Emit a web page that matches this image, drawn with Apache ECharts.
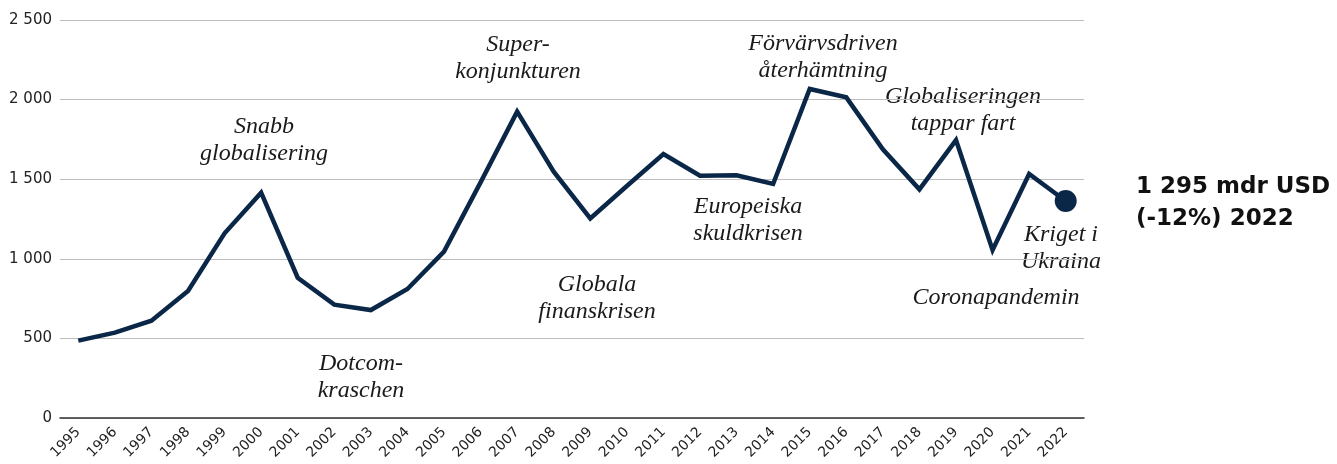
<!DOCTYPE html>
<html><head><meta charset="utf-8">
<script src="https://cdn.jsdelivr.net/npm/echarts@6/dist/echarts.min.js"></script>
<style>html,body{margin:0;padding:0;background:#fff}#c{width:1337px;height:464px}</style>
</head><body><div id="c"></div>
<script>
const years = ['1995','1996','1997','1998','1999','2000','2001','2002','2003','2004','2005','2006','2007','2008','2009','2010','2011','2012','2013','2014','2015','2016','2017','2018','2019','2020','2021','2022'];
const fdi = [486,536,611,798,1160,1415,881,712,678,810,1045,1480,1924,1547,1254,1457,1658,1522,1525,1470,2067,2014,1688,1436,1746,1055,1533,1363];
const yTicks = [0,500,1000,1500,2000,2500];
const annotations = [
  {text:'Snabb\nglobalisering', x:264, y:140},
  {text:'Dotcom-\nkraschen', x:361, y:377},
  {text:'Super-\nkonjunkturen', x:518, y:58},
  {text:'Globala\nfinanskrisen', x:597, y:298},
  {text:'Europeiska\nskuldkrisen', x:748, y:220},
  {text:'Förvärvsdriven\nåterhämtning', x:823, y:57},
  {text:'Globaliseringen\ntappar fart', x:963, y:110},
  {text:'Kriget i\nUkraina', x:1061, y:248},
  {text:'Coronapandemin', x:996, y:298}
];
const endLabel = ['1 295 mdr USD', '(-12%) 2022'];

const fmt = v => String(v).replace(/\B(?=(\d{3})+(?!\d))/g, ' ');
const chart = echarts.init(document.getElementById('c'));
const graphics = annotations.map(a => ({
  type:'text', x:a.x, y:a.y,
  style:{text:a.text, align:'center', verticalAlign:'middle',
    font:'italic 24px "Liberation Serif", serif', fill:'#1a1a1a', lineHeight:27}
}));
graphics.push({type:'text', x:1136, y:187, style:{text:endLabel[0], align:'left', verticalAlign:'middle', font:'bold 23px "DejaVu Sans", sans-serif', fill:'#111'}});
graphics.push({type:'text', x:1136, y:219, style:{text:endLabel[1], align:'left', verticalAlign:'middle', font:'bold 23px "DejaVu Sans", sans-serif', fill:'#111'}});
chart.setOption({
  animation:false,
  grid:{left:60, right:253, top:20, bottom:46, containLabel:false},
  xAxis:{type:'category', data:years, boundaryGap:true,
    axisLine:{lineStyle:{color:'#333', width:1.5}}, axisTick:{show:false},
    axisLabel:{rotate:45, color:'#222', fontSize:14, fontFamily:'"DejaVu Sans", sans-serif', margin:12, interval:0}},
  yAxis:{type:'value', min:0, max:2500, interval:500,
    axisLine:{show:false}, axisTick:{show:false},
    axisLabel:{color:'#222', fontSize:15, fontFamily:'"DejaVu Sans", sans-serif', formatter:v=>fmt(v), margin:8},
    splitLine:{lineStyle:{color:'#bdbdbd', width:1}}},
  series:[{type:'line', data:fdi, symbol:'none', lineStyle:{color:'#0b2747', width:4.5, join:'miter'},
    markPoint:{symbol:'circle', symbolSize:22, itemStyle:{color:'#0b2747'}, label:{show:false},
      data:[{coord:[years[years.length-1], fdi[fdi.length-1]]}]}}],
  graphic:graphics
});
</script></body></html>
